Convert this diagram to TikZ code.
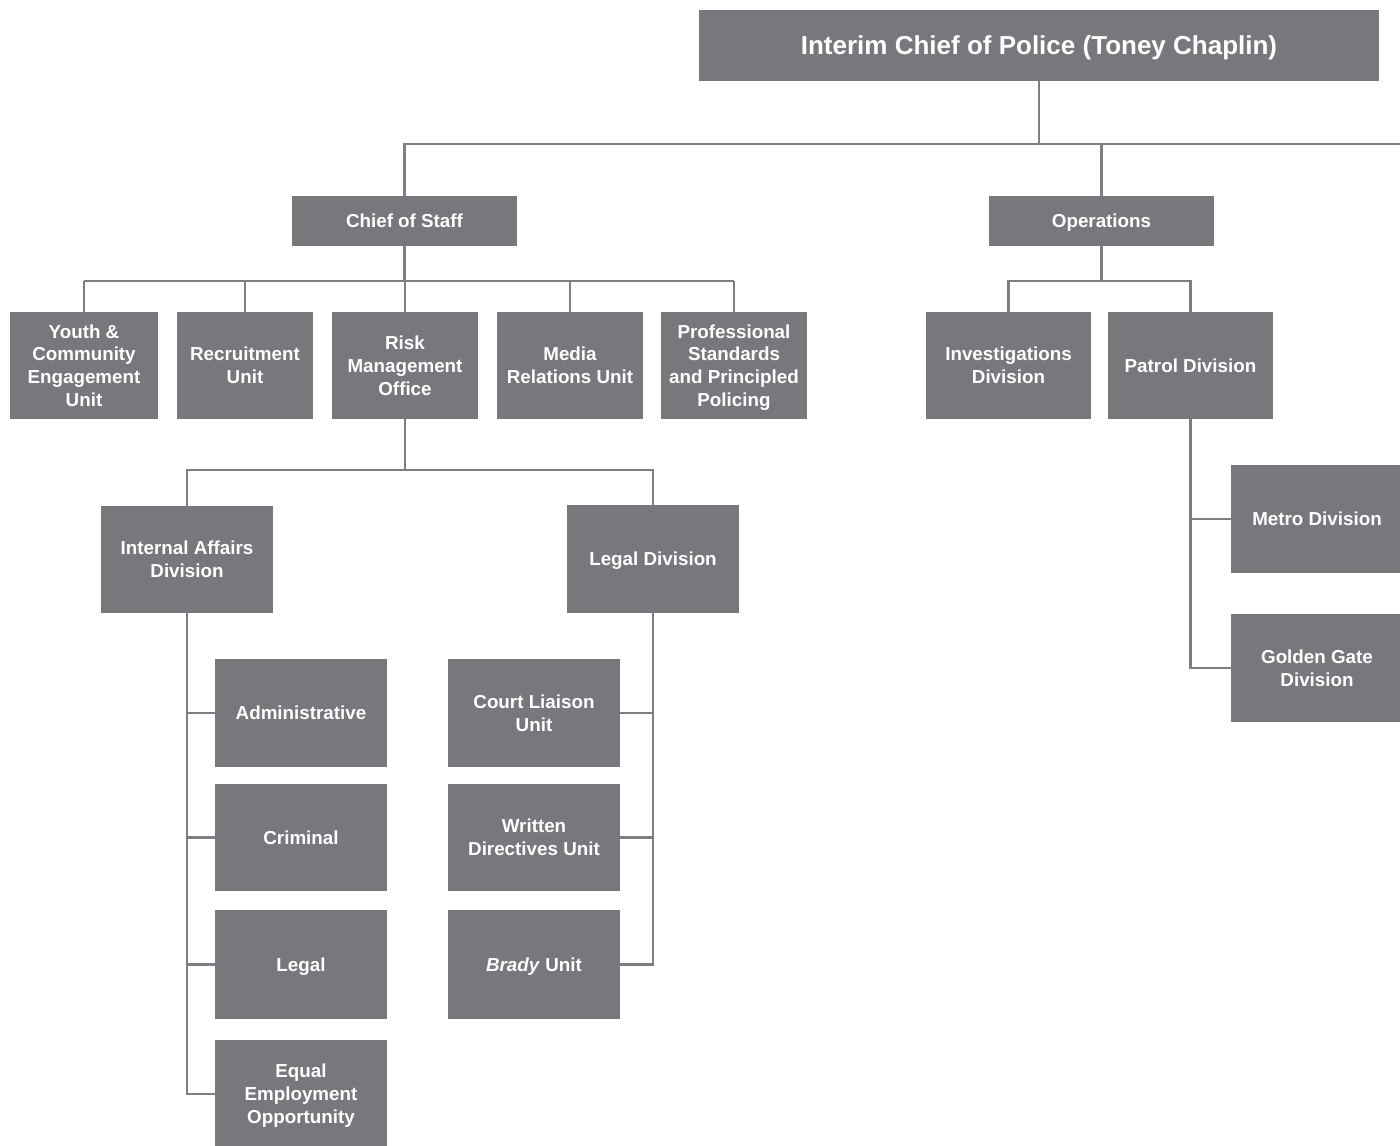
\documentclass[tikz,border=0pt]{standalone}
\usepackage{fontspec}
\setmainfont{Liberation Sans}
\definecolor{boxgray}{HTML}{77787C}
\definecolor{linegray}{HTML}{7F7F83}
\tikzset{
  unit/.style={fill=boxgray, text=white, align=center, inner sep=0pt,
    text depth=0pt, font=\bfseries\fontsize{10.7}{13}\selectfont},
  link/.style={draw=linegray, line width=1.6pt},
  narrowbox/.style={unit, minimum width=2.92cm, minimum height=2.14cm},
  widebox/.style={unit, minimum width=3.44cm, minimum height=2.16cm}
}
\begin{document}
\begin{tikzpicture}[x=0.02cm, y=-0.02cm]
  \path[use as bounding box, clip] (0,0) rectangle (1400,1146);

  % Top level
  \node[unit, minimum width=13.6cm, minimum height=1.42cm,
        font=\bfseries\fontsize{14.8}{17}\selectfont] (chief) at (1039,45.5)
        {Interim Chief of Police (Toney Chaplin)};

  % Second level
  \node[unit, minimum width=4.5cm, minimum height=1cm] (staff) at (404.5,221) {Chief of Staff};
  \node[unit, minimum width=4.5cm, minimum height=1cm] (ops) at (1101.5,221) {Operations};

  % Chief of Staff units
  \node[narrowbox, minimum width=2.96cm] (youth) at (84,365.5) {Youth \&\\Community\\Engagement\\Unit};
  \node[narrowbox, minimum width=2.72cm] (recruit) at (245,365.5) {Recruitment\\Unit};
  \node[narrowbox] (risk) at (405,365.5) {Risk\\Management\\Office};
  \node[narrowbox] (media) at (570,365.5) {Media\\Relations Unit};
  \node[narrowbox] (prof) at (734,365.5) {Professional\\Standards\\and Principled\\Policing};

  % Operations units
  \node[narrowbox, minimum width=3.3cm] (invest) at (1008.5,365.5) {Investigations\\Division};
  \node[narrowbox, minimum width=3.3cm] (patrol) at (1190.5,365.5) {Patrol Division};
  \node[widebox] (metro) at (1317,519) {Metro Division};
  \node[widebox] (golden) at (1317,668) {Golden Gate\\Division};

  % Risk Management divisions
  \node[widebox, minimum height=2.14cm] (ia) at (187,559.5) {Internal Affairs\\Division};
  \node[widebox] (legaldiv) at (653,559) {Legal Division};

  % Internal Affairs sections
  \node[widebox] (admin) at (301,713) {Administrative};
  \node[widebox, minimum height=2.14cm] (crim) at (301,837.5) {Criminal};
  \node[widebox, minimum height=2.18cm] (legal) at (301,964.5) {Legal};
  \node[widebox] (eeo) at (301,1094) {Equal\\Employment\\Opportunity};

  % Legal Division units
  \node[widebox] (court) at (534,713) {Court Liaison\\Unit};
  \node[widebox, minimum height=2.14cm] (written) at (534,837.5) {Written\\Directives Unit};
  \node[widebox, minimum height=2.18cm] (brady) at (534,964.5) {\textit{Brady} Unit};

  % Buses
  \coordinate (busTop) at (1400,144);
  \coordinate (busStaff) at (0,281);
  \coordinate (busRisk) at (0,470);

  % Top connectors
  \draw[link] (chief.south) -- (chief.south |- busTop);
  \draw[link] (staff.north) |- (busTop);
  \draw[link] (ops.north) -- (ops.north |- busTop);

  % Chief of Staff connectors
  \draw[link] (staff.south) -- (staff.south |- busStaff);
  \draw[link] (youth.north |- busStaff) -- (prof.north |- busStaff);
  \foreach \n in {youth,recruit,risk,media,prof}
    \draw[link] (\n.north) -- (\n.north |- busStaff);

  % Operations connectors
  \draw[link] (ops.south) -- (ops.south |- busStaff);
  \draw[link] (invest.north) |- (patrol.north |- busStaff) -- (patrol.north);
  \draw[link] (patrol.south) |- (golden.west);
  \draw[link] (metro.west) -- (patrol.south |- metro.west);

  % Risk Management connectors
  \draw[link] (risk.south) -- (risk.south |- busRisk);
  \draw[link] (ia.north) |- (legaldiv.north |- busRisk) -- (legaldiv.north);

  % Internal Affairs connectors
  \draw[link] (ia.south) |- (eeo.west);
  \foreach \n in {admin,crim,legal}
    \draw[link] (\n.west) -- (ia.south |- \n.west);

  % Legal Division connectors
  \draw[link] (legaldiv.south) |- (brady.east);
  \foreach \n in {court,written}
    \draw[link] (\n.east) -- (legaldiv.south |- \n.east);
\end{tikzpicture}
\end{document}
